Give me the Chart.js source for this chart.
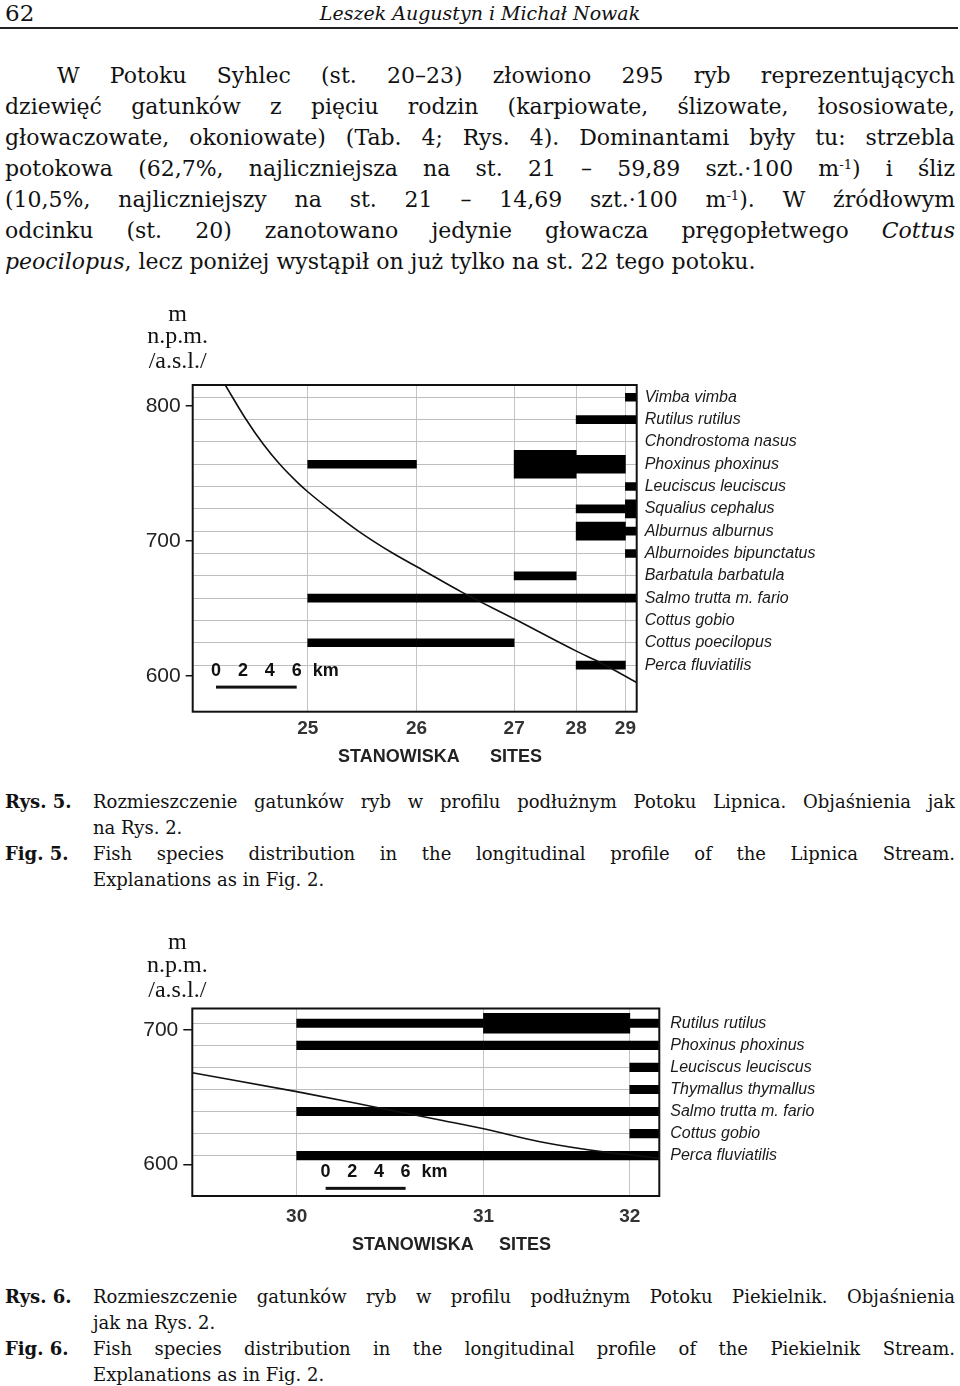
<!DOCTYPE html>
<html lang="pl">
<head>
<meta charset="utf-8">
<title>Rys. 5 i Rys. 6</title>
<script src="https://cdn.jsdelivr.net/npm/chart.js@4.4.1/dist/chart.umd.min.js"></script>
<style>
  html, body { margin: 0; padding: 0; background: #fff; }
  body { width: 960px; height: 1386px; position: relative; overflow: hidden; color: #111; font-family: "DejaVu Serif", serif; }
  .abs { position: absolute; }
  .num { left: 5px; top: 0; font-size: 23px; line-height: 26px; }
  .aut { left: 0; top: 0; width: 960px; text-align: center; font-style: italic; font-size: 19px; line-height: 26px; }
  .kreska { left: 0; top: 27px; width: 958px; height: 2px; background: #222; }
  .para { left: 5px; top: 60px; width: 950px; font-size: 22px; line-height: 31px; }
  .j { text-align: justify; text-align-last: justify; white-space: nowrap; }
  sup { font-size: 0.6em; vertical-align: 0.55em; line-height: 0; }
  .cap { left: 5px; width: 950px; font-size: 18px; line-height: 26px; }
  .cap .ln { position: relative; padding-left: 88px; }
  .cap b { position: absolute; left: 0; top: 0; }
  canvas { position: absolute; left: 0; }
</style>
</head>
<body>
<div class="abs num">62</div>
<div class="abs aut">Leszek Augustyn i Michał Nowak</div>
<div class="abs kreska"></div>

<div class="abs para">
  <div class="j" style="padding-left:52px">W Potoku Syhlec (st. 20–23) złowiono 295 ryb reprezentujących</div>
  <div class="j">dziewięć gatunków z pięciu rodzin (karpiowate, ślizowate, łososiowate,</div>
  <div class="j">głowaczowate, okoniowate) (Tab. 4; Rys. 4). Dominantami były tu: strzebla</div>
  <div class="j">potokowa (62,7%, najliczniejsza na st. 21 – 59,89 szt.·100 m<sup>-1</sup>) i śliz</div>
  <div class="j">(10,5%, najliczniejszy na st. 21 – 14,69 szt.·100 m<sup>-1</sup>). W źródłowym</div>
  <div class="j">odcinku (st. 20) zanotowano jedynie głowacza pręgopłetwego <i>Cottus</i></div>
  <div><i>peocilopus</i>, lecz poniżej wystąpił on już tylko na st. 22 tego potoku.</div>
</div>

<canvas id="lipnica" width="960" height="475" style="top:300px"></canvas>

<div class="abs cap" style="top:789px">
  <div class="ln"><b>Rys. 5.</b><div class="j">Rozmieszczenie gatunków ryb w profilu podłużnym Potoku Lipnica. Objaśnienia jak</div></div>
  <div class="ln">na Rys. 2.</div>
  <div class="ln"><b>Fig. 5.</b><div class="j">Fish species distribution in the longitudinal profile of the Lipnica Stream.</div></div>
  <div class="ln">Explanations as in Fig. 2.</div>
</div>

<canvas id="piekielnik" width="960" height="335" style="top:930px"></canvas>

<div class="abs cap" style="top:1284px">
  <div class="ln"><b>Rys. 6.</b><div class="j">Rozmieszczenie gatunków ryb w profilu podłużnym Potoku Piekielnik. Objaśnienia</div></div>
  <div class="ln">jak na Rys. 2.</div>
  <div class="ln"><b>Fig. 6.</b><div class="j">Fish species distribution in the longitudinal profile of the Piekielnik Stream.</div></div>
  <div class="ln">Explanations as in Fig. 2.</div>
</div>

<script>
// Rys. 5 - Potok Lipnica (km liczone od lewej krawedzi wykresu)
const lipnicaSites = ["25", "26", "27", "28", "29"];
const lipnicaSiteKm = [8.55, 16.63, 23.89, 28.5, 32.16];
const lipnicaEndKm = 33.0;
const lipnicaSpecies = [
  "Vimba vimba", "Rutilus rutilus", "Chondrostoma nasus", "Phoxinus phoxinus",
  "Leuciscus leuciscus", "Squalius cephalus", "Alburnus alburnus",
  "Alburnoides bipunctatus", "Barbatula barbatula", "Salmo trutta m. fario",
  "Cottus gobio", "Cottus poecilopus", "Perca fluviatilis"
];
// liczebnosc na odcinkach 25-26, 26-27, 27-28, 28-29, 29-koniec (0 brak, 1 malo, 2 srednio, 3 duzo)
const lipnicaAbundance = [
  [0, 0, 0, 0, 1],
  [0, 0, 0, 1, 1],
  [0, 0, 0, 0, 0],
  [1, 0, 3, 2, 0],
  [0, 0, 0, 0, 1],
  [0, 0, 0, 1, 2],
  [0, 0, 0, 2, 1],
  [0, 0, 0, 0, 1],
  [0, 0, 1, 0, 0],
  [1, 1, 1, 1, 1],
  [0, 0, 0, 0, 0],
  [1, 1, 0, 0, 0],
  [0, 0, 0, 1, 0]
];
const lipnicaProfileKm = [2.42, 3.91, 5.28, 6.44, 7.88, 8.55, 10.36, 12.34, 14.82, 17.05, 20.0, 23.96, 28.48, 30.28, 33.0];
const lipnicaProfileElev = [815.5, 790.9, 771.2, 757.2, 742.5, 736.5, 722.0, 707.2, 691.3, 678.8, 662.2, 642.1, 618.7, 610.1, 595.3];
const lipnicaElevTicks = [600, 700, 800];

// Rys. 6 - Potok Piekielnik
const piekielnikSites = ["30", "31", "32"];
const piekielnikSiteKm = [7.83, 21.84, 32.82];
const piekielnikEndKm = 35.03;
const piekielnikSpecies = [
  "Rutilus rutilus", "Phoxinus phoxinus", "Leuciscus leuciscus",
  "Thymallus thymallus", "Salmo trutta m. fario", "Cottus gobio", "Perca fluviatilis"
];
// odcinki 30-31, 31-32, 32-koniec
const piekielnikAbundance = [
  [1, 2, 1],
  [1, 1, 1],
  [0, 0, 1],
  [0, 0, 1],
  [1, 1, 1],
  [0, 0, 1],
  [1, 1, 1]
];
const piekielnikProfileKm = [0, 7.83, 13.58, 18.58, 22.03, 26.08, 31.09, 33.01, 35.03];
const piekielnikProfileElev = [668.2, 654.1, 642.9, 633.0, 626.1, 616.8, 608.9, 606.9, 604.4];
const piekielnikElevTicks = [600, 700];

const SANS = "'Liberation Sans', Arial, sans-serif";
const SERIF = "'Liberation Serif', 'Times New Roman', serif";

// ramka, opis osi i podzialka km
const opisy = {
  id: "opisy",
  afterDraw(chart, args, o) {
    const { ctx, chartArea: a, scales } = chart;
    ctx.save();
    ctx.strokeStyle = "#111";
    ctx.lineWidth = 2;
    ctx.strokeRect(a.left, a.top, a.right - a.left, a.bottom - a.top);

    ctx.fillStyle = "#111";
    ctx.textAlign = "center";
    ctx.textBaseline = "middle";
    ctx.font = "24px " + SERIF;
    ["m", "n.p.m.", "/a.s.l./"].forEach((t, i) => ctx.fillText(t, a.left - 15, o.titleY[i]));

    ctx.font = "bold 18px " + SANS;
    ctx.fillStyle = "#222";
    ctx.textAlign = "left";
    ctx.fillText("STANOWISKA", o.siteX[0], o.siteY);
    ctx.fillText("SITES", o.siteX[1], o.siteY);

    // podzialka 0-6 km
    const x = scales.x, y = scales.y;
    const yl = y.getPixelForValue(o.barElev);
    const x0 = x.getPixelForValue(o.barKm);
    const x6 = x.getPixelForValue(o.barKm + 6);
    ctx.fillStyle = "#111";
    ctx.fillRect(x0, yl - 1.5, x6 - x0, 3);
    ctx.font = "bold 18px " + SANS;
    ctx.textAlign = "center";
    [0, 2, 4, 6].forEach(k => {
      ctx.fillText(String(k), x.getPixelForValue(o.barKm + k), yl - 16);
    });
    ctx.textAlign = "left";
    ctx.fillText("km", x6 + 16, yl - 16);
    ctx.restore();
  }
};

function rysujProfil(id, sites, siteKm, endKm, species, abundance, profKm, profElev, elevTicks, opt) {
  const segKm = [...siteKm, endKm];
  const klasy = [[], [], []];
  abundance.forEach((row, i) => {
    row.forEach((c, j) => {
      if (c > 0) klasy[c - 1].push({ x: [segKm[j], segKm[j + 1]], y: i });
    });
  });

  const bary = klasy.map((data, k) => ({
    type: "bar",
    data,
    indexAxis: "y",
    xAxisID: "x",
    yAxisID: "rows",
    backgroundColor: "#000",
    borderWidth: 0,
    barThickness: opt.thick[k],
    grouped: false
  }));

  const profil = {
    type: "line",
    data: profKm.map((k, i) => ({ x: k, y: profElev[i] })),
    xAxisID: "x",
    yAxisID: "y",
    borderColor: "#111",
    borderWidth: 1.6,
    pointRadius: 0,
    cubicInterpolationMode: "monotone"
  };

  new Chart(document.getElementById(id), {
    type: "line",
    data: { datasets: [profil, ...bary] },
    plugins: [opisy],
    options: {
      responsive: false,
      animation: false,
      layout: { padding: { top: opt.top, left: 0, right: 0, bottom: 0 } },
      plugins: {
        legend: { display: false },
        tooltip: { enabled: false },
        opisy: opt.opisy
      },
      scales: {
        x: {
          type: "linear",
          min: 0,
          max: endKm,
          offset: false,
          z: 1,
          afterBuildTicks: s => { s.ticks = siteKm.map(v => ({ value: v })); },
          afterFit: s => { s.height = opt.xHeight; },
          grid: { color: "#c4c4c4", lineWidth: 1, drawTicks: false, offset: false },
          border: { display: false },
          ticks: {
            autoSkip: false,
            maxRotation: 0,
            padding: opt.xPad,
            color: "#333",
            font: { family: SANS, size: 19, weight: "bold" },
            callback: (v, i) => sites[i]
          }
        },
        y: {
          type: "linear",
          position: "left",
          min: opt.yMin,
          max: opt.yMax,
          afterBuildTicks: s => { s.ticks = elevTicks.map(v => ({ value: v })); },
          afterFit: s => { s.width = opt.left; },
          grid: { drawOnChartArea: false, tickLength: opt.tickLen, color: "#111", lineWidth: 1.5 },
          border: { display: false },
          ticks: {
            padding: 5,
            color: "#222",
            font: { family: SANS, size: 21 }
          }
        },
        rows: {
          type: "linear",
          axis: "y",
          position: "right",
          reverse: true,
          offset: false,
          min: opt.rowMin,
          max: opt.rowMax,
          afterBuildTicks: s => { s.ticks = species.map((n, i) => ({ value: i })); },
          afterFit: s => { s.width = 960 - opt.right; },
          grid: { color: "#bdbdbd", lineWidth: 1, drawTicks: false, offset: false },
          border: { display: false },
          ticks: {
            autoSkip: false,
            padding: opt.rowPad,
            color: "#1a1a1a",
            font: { family: SANS, size: 16, style: "italic" },
            callback: v => species[v]
          }
        }
      }
    }
  });
}

document.addEventListener("DOMContentLoaded", () => {
  rysujProfil("lipnica", lipnicaSites, lipnicaSiteKm, lipnicaEndKm, lipnicaSpecies,
    lipnicaAbundance, lipnicaProfileKm, lipnicaProfileElev, lipnicaElevTicks, {
      top: 85, left: 192.7, right: 636.7, xHeight: 63.3, xPad: 6, rowPad: 8, tickLen: 7,
      yMin: 573.7, yMax: 815.5, rowMin: -0.55, rowMax: 14.09,
      thick: [8, 18, 28],
      opisy: { titleY: [15, 37, 62], siteX: [338, 490], siteY: 457, barKm: 1.73, barElev: 591.9 }
    });

  rysujProfil("piekielnik", piekielnikSites, piekielnikSiteKm, piekielnikEndKm, piekielnikSpecies,
    piekielnikAbundance, piekielnikProfileKm, piekielnikProfileElev, piekielnikElevTicks, {
      top: 78.5, left: 192.3, right: 659.3, xHeight: 69, xPad: 9, rowPad: 11, tickLen: 9,
      yMin: 576.4, yMax: 716.0, rowMin: -0.67, rowMax: 7.83,
      thick: [8.5, 20, 28],
      opisy: { titleY: [13, 36, 61], siteX: [352, 499], siteY: 315, barKm: 10.0, barElev: 582.1 }
    });
});
</script>
</body>
</html>
